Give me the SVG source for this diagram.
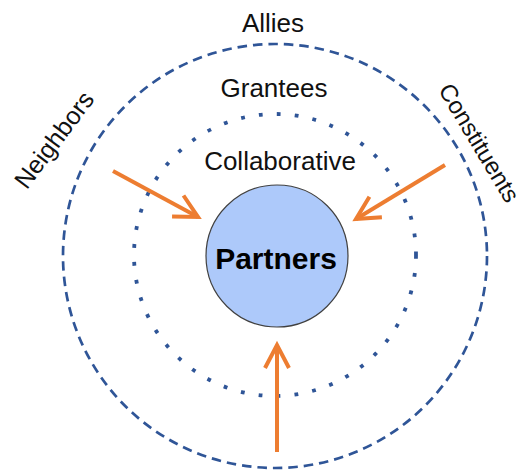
<svg xmlns="http://www.w3.org/2000/svg" width="527" height="471" viewBox="0 0 527 471">
<defs>
<style>
.lbl{font-family:"Liberation Sans",Arial,sans-serif;font-size:26px;fill:#111;text-anchor:middle}
.rot{font-size:25px}
.rot2{font-size:24px}
.conn{stroke:#ED7D31;stroke-width:4;fill:none;marker-end:url(#arr)}
</style>
<marker id="arr" markerUnits="userSpaceOnUse" markerWidth="40" markerHeight="40" viewBox="-30 -20 40 40" refX="0" refY="0" orient="auto" overflow="visible">
<path d="M-23,-12 L0,0 L-23,12" fill="none" stroke="#ED7D31" stroke-width="4" stroke-linecap="butt" stroke-linejoin="miter"/>
</marker>
</defs>
<rect width="527" height="471" fill="#ffffff"/>
<g id="ring-outer">
<circle cx="275" cy="256" r="212" fill="none" stroke="#2F5597" stroke-width="2.7" stroke-dasharray="9.5 6"/>
</g>
<g id="ring-middle">
<circle cx="275" cy="255" r="141" fill="none" stroke="#2F5597" stroke-width="3.8" stroke-dasharray="3.8 14.2"/>
</g>
<g id="partners">
<circle cx="277" cy="256" r="71" fill="#ADC9FA" stroke="#404040" stroke-width="1.2"/>
<text x="276" y="269" style="font-family:'Liberation Sans',Arial,sans-serif;font-size:30px;font-weight:bold;fill:#000;text-anchor:middle">Partners</text>
</g>
<g id="allies"><text class="lbl" x="273" y="32">Allies</text></g>
<g id="grantees"><text class="lbl" x="274" y="97">Grantees</text></g>
<g id="collaborative"><text class="lbl" x="280" y="170">Collaborative</text></g>
<g id="neighbors"><text class="lbl rot" transform="translate(61,145) rotate(-53)">Neighbors</text></g>
<g id="constituents"><text class="lbl rot2" transform="translate(472,147) rotate(59)">Constituents</text></g>
<g id="connectors">
<line class="conn" x1="113" y1="171" x2="198" y2="217"/>
<line class="conn" x1="445" y1="165" x2="356" y2="219"/>
<line class="conn" x1="277" y1="452" x2="277" y2="345"/>
</g>
</svg>
